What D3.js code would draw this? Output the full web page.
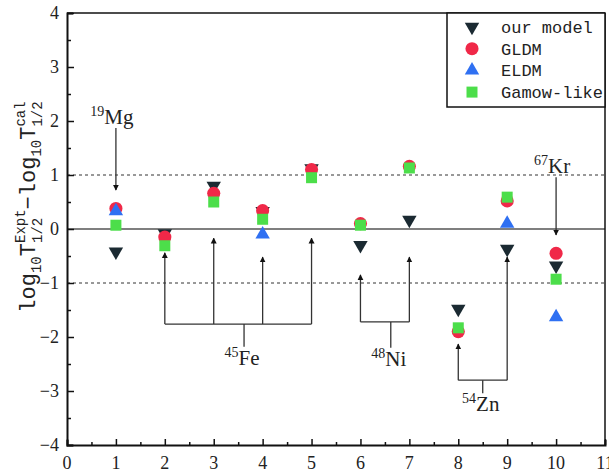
<!DOCTYPE html>
<html>
<head>
<meta charset="utf-8">
<script src="https://cdn.jsdelivr.net/npm/d3@7"></script>
<style>
  body { margin: 0; background: #fff; }
  svg text { fill: #222; }
</style>
</head>
<body>
<div id="chart"></div>
<script>
// nucleus index on the x axis
var nuclei = [1, 2, 3, 4, 5, 6, 7, 8, 9, 10];
var ourModel = [-0.42, -0.08, 0.80, 0.33, 1.12, -0.30, 0.17, -1.48, -0.37, -0.68];
var gldm     = [0.38, -0.15, 0.66, 0.34, 1.10, 0.10, 1.16, -1.90, 0.52, -0.45];
var eldm     = [0.33, null, null, -0.10, null, null, null, null, 0.10, -1.63];
var gamow    = [0.07, -0.31, 0.50, 0.18, 0.95, 0.07, 1.13, -1.83, 0.59, -0.93];

var xTicks = [0, 1, 2, 3, 4, 5, 6, 7, 8, 9, 10, 11];
var yTicks = [-4, -3, -2, -1, 0, 1, 2, 3, 4];

// single arrows: label, mass number, x, arrow start y, arrow tip y
var singleNotes = [
  {mass: "19", el: "Mg", x: 1, y0: 1.87, y1: 0.72},
  {mass: "67", el: "Kr", x: 10, y0: 0.96, y1: -0.11}
];
// bracket arrows: tips, bar level, stem
var groupNotes = [
  {mass: "45", el: "Fe", xs: [2, 3, 4, 5], tips: [-0.44, -0.17, -0.52, -0.17], bar: -1.76, stemX: 3.62, stemY: -2.18},
  {mass: "48", el: "Ni", xs: [6, 7], tips: [-0.85, -0.52], bar: -1.72, stemX: 6.62, stemY: -2.2},
  {mass: "54", el: "Zn", xs: [8, 9], tips: [-2.13, -0.52], bar: -2.8, stemX: 8.5, stemY: -3.04}
];

var width = 609, height = 473;
var margin = {top: 13, right: 4, bottom: 28, left: 67};

var svg = d3.select("#chart").append("svg")
  .attr("width", width).attr("height", height);

var x = d3.scaleLinear().domain([0, 11]).range([margin.left, width - margin.right]);
var y = d3.scaleLinear().domain([-4, 4]).range([height - margin.bottom, margin.top]);

var serif = "'Liberation Serif', 'DejaVu Serif', serif";
var mono = "'Liberation Mono', 'DejaVu Sans Mono', monospace";

// reference lines
svg.append("line")
  .attr("x1", x(0)).attr("x2", x(11)).attr("y1", y(0)).attr("y2", y(0))
  .attr("stroke", "#555").attr("stroke-width", 1.5);
[1, -1].forEach(function(v) {
  svg.append("line")
    .attr("x1", x(0)).attr("x2", x(11)).attr("y1", y(v)).attr("y2", y(v))
    .attr("stroke", "#333").attr("stroke-width", 1).attr("stroke-dasharray", "3,3");
});

// axes
var xAxis = svg.append("g").attr("transform", "translate(0," + y(-4) + ")")
  .call(d3.axisBottom(x).tickValues(d3.range(0, 11.01, 0.5)).tickSize(-5).tickFormat(""));
xAxis.selectAll(".tick line").attr("y2", function(d) { return d % 1 === 0 ? -6 : -3; });
var yAxis = svg.append("g").attr("transform", "translate(" + x(0) + ",0)")
  .call(d3.axisLeft(y).tickValues(d3.range(-4, 4.01, 0.5)).tickSize(-6).tickFormat(""));
yAxis.selectAll(".tick line").attr("x2", function(d) { return d % 1 === 0 ? 7 : 4; });
svg.selectAll(".domain").attr("stroke", "#111").attr("stroke-width", 2);
svg.selectAll(".tick line").attr("stroke", "#111").attr("stroke-width", 1.5);

// frame top/right
svg.append("line").attr("x1", x(0)).attr("x2", x(11)).attr("y1", y(4)).attr("y2", y(4))
  .attr("stroke", "#111").attr("stroke-width", 1.5);
svg.append("line").attr("x1", x(11)).attr("x2", x(11)).attr("y1", y(4)).attr("y2", y(-4))
  .attr("stroke", "#111").attr("stroke-width", 1.5);

// tick labels
svg.selectAll(".xl").data(xTicks).enter().append("text")
  .attr("x", function(d) { return x(d); }).attr("y", height - 4)
  .attr("text-anchor", "middle").attr("font-family", serif).attr("font-size", 18)
  .text(function(d) { return d; });
svg.selectAll(".yl").data(yTicks).enter().append("text")
  .attr("x", x(0) - 8).attr("y", function(d) { return y(d) + 6; })
  .attr("text-anchor", "end").attr("font-family", serif).attr("font-size", 18)
  .text(function(d) { return d < 0 ? "\u2212" + (-d) : d; });

// rich text: pieces laid out left to right, stacked scripts share a start
function rich(g, parts, family) {
  var cx = 0, start = 0, lastW = 0;
  parts.forEach(function(p) {
    var px = p.stack ? start : cx;
    var t = g.append("text").attr("x", px).attr("y", p.dy || 0)
      .attr("font-family", family).attr("font-size", p.size).text(p.t);
    var w = t.node().getComputedTextLength();
    if (p.stack) {
      cx = start + Math.max(lastW, w);
    } else {
      start = px; lastW = w; cx = px + w;
    }
  });
  return cx;
}

// y axis title
var yt = svg.append("g");
var ytw = rich(yt, [
  {t: "log", size: 22}, {t: "10", size: 14, dy: 6},
  {t: "T", size: 22}, {t: "1/2", size: 14, dy: 7}, {t: "Expt", size: 14, dy: -10, stack: true},
  {t: "\u2212log", size: 22}, {t: "10", size: 14, dy: 6},
  {t: "T", size: 22}, {t: "1/2", size: 14, dy: 7}, {t: "cal", size: 14, dy: -10, stack: true}
], mono);
yt.attr("transform", "translate(35," + (207 + ytw / 2) + ") rotate(-90)");

// arrow head marker
svg.append("defs").append("marker")
  .attr("id", "ah").attr("viewBox", "0 0 10 10").attr("refX", 9).attr("refY", 5)
  .attr("markerWidth", 6).attr("markerHeight", 8).attr("markerUnits", "userSpaceOnUse")
  .attr("orient", "auto")
  .append("path").attr("d", "M0,0L10,5L0,10z").attr("fill", "#111");

function nuclide(gx, gy, mass, el) {
  var g = svg.append("g");
  var w = rich(g, [{t: mass, size: 14, dy: -8}, {t: el, size: 21}], serif);
  g.attr("transform", "translate(" + (gx - w / 2) + "," + gy + ")");
}

singleNotes.forEach(function(n) {
  svg.append("line").attr("x1", x(n.x)).attr("x2", x(n.x))
    .attr("y1", y(n.y0)).attr("y2", y(n.y1))
    .attr("stroke", "#333").attr("stroke-width", 1.3).attr("marker-end", "url(#ah)");
  nuclide(x(n.x) - 4, y(n.y0) - 4, n.mass, n.el);
});

groupNotes.forEach(function(n) {
  n.xs.forEach(function(v, i) {
    svg.append("line").attr("x1", x(v)).attr("x2", x(v))
      .attr("y1", y(n.bar)).attr("y2", y(n.tips[i]))
      .attr("stroke", "#333").attr("stroke-width", 1.3).attr("marker-end", "url(#ah)");
  });
  svg.append("line").attr("x1", x(n.xs[0])).attr("x2", x(n.xs[n.xs.length - 1]))
    .attr("y1", y(n.bar)).attr("y2", y(n.bar)).attr("stroke", "#333").attr("stroke-width", 1.3);
  svg.append("line").attr("x1", x(n.stemX)).attr("x2", x(n.stemX))
    .attr("y1", y(n.bar)).attr("y2", y(n.stemY)).attr("stroke", "#333").attr("stroke-width", 1.3);
  nuclide(x(n.stemX) - 2, y(n.stemY) + 18, n.mass, n.el);
});

// series
var series = [
  {name: "our model", values: ourModel, color: "#1b2a32", shape: d3.symbolTriangle, size: 90, rot: 180},
  {name: "GLDM", values: gldm, color: "#f02848", shape: d3.symbolCircle, size: 135, rot: 0},
  {name: "ELDM", values: eldm, color: "#2f70f2", shape: d3.symbolTriangle, size: 90, rot: 0},
  {name: "Gamow-like", values: gamow, color: "#4cde4a", shape: d3.symbolSquare, size: 121, rot: 0}
];

series.forEach(function(s) {
  var pts = nuclei.map(function(n, i) { return {x: n, y: s.values[i]}; })
    .filter(function(d) { return d.y !== null; });
  svg.selectAll(null).data(pts).enter().append("path")
    .attr("d", d3.symbol().type(s.shape).size(s.size))
    .attr("transform", function(d) {
      return "translate(" + x(d.x) + "," + y(d.y) + ") rotate(" + s.rot + ")";
    })
    .attr("fill", s.color);
});

// legend
var lg = svg.append("g");
lg.append("rect").attr("x", 447).attr("y", y(4)).attr("width", x(11) - 447).attr("height", 94)
  .attr("fill", "#fff").attr("stroke", "#111").attr("stroke-width", 1.5);
series.forEach(function(s, i) {
  var ly = 27 + i * 21.7;
  lg.append("path").attr("d", d3.symbol().type(s.shape).size(s.size))
    .attr("transform", "translate(472," + ly + ") rotate(" + s.rot + ")")
    .attr("fill", s.color);
  lg.append("text").attr("x", 501).attr("y", ly + 6)
    .attr("font-family", mono).attr("font-size", 17).text(s.name);
});
</script>
</body>
</html>
